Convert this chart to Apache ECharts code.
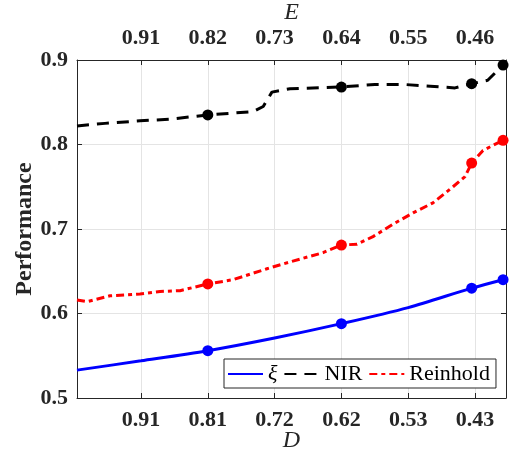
<!DOCTYPE html>
<html><head><meta charset="utf-8">
<script src="https://cdn.jsdelivr.net/npm/echarts@6/dist/echarts.min.js"></script>
<style>html,body{margin:0;padding:0;background:#fff}#c{width:514px;height:461px}</style>
</head><body><div id="c"></div>
<script>
// x positions are sample positions (tick k sits at position k)
const tickPos = [1, 2, 3, 4, 5, 6];
const dLabels = ['0.91', '0.81', '0.72', '0.62', '0.53', '0.43'];
const eLabels = ['0.91', '0.82', '0.73', '0.64', '0.55', '0.46'];
const yTicks = [0.5, 0.6, 0.7, 0.8, 0.9];

const xiX = [0.042, 1, 2, 3, 4, 5, 5.95, 6.42];
const xiY = [0.533, 0.544, 0.556, 0.571, 0.588, 0.607, 0.630, 0.640];

const nirX = [0.042, 0.461, 0.985, 1.434, 2.0, 2.677, 2.83, 2.96, 3.23, 3.99, 4.5, 4.95, 5.33, 5.70, 5.95, 6.19, 6.42];
const nirY = [0.822, 0.825, 0.828, 0.830, 0.835, 0.839, 0.845, 0.862, 0.866, 0.868, 0.871, 0.871, 0.869, 0.867, 0.872, 0.876, 0.894];

const reiX = [0.042, 0.19, 0.536, 0.985, 1.284, 1.584, 2.0, 2.377, 2.886, 3.23, 3.725, 3.994, 4.234, 4.473, 4.802, 5.072, 5.371, 5.671, 5.85, 5.95, 6.12, 6.42];
const reiY = [0.616, 0.614, 0.621, 0.623, 0.626, 0.627, 0.635, 0.640, 0.653, 0.661, 0.672, 0.681, 0.682, 0.691, 0.707, 0.719, 0.731, 0.750, 0.762, 0.778, 0.793, 0.805];

const markX = [2, 4, 5.95, 6.42];
const xiMark = [0.556, 0.588, 0.630, 0.640];
const nirMark = [0.835, 0.868, 0.872, 0.894];
const reiMark = [0.635, 0.681, 0.778, 0.805];

const zip = (a, b) => a.map((v, i) => [v, b[i]]);
const FONT = 'Liberation Serif';
const AX = '#262626';
const GRIDC = '#e4e4e4';

function xAxisCfg(pos, labels, name, gap) {
  return {
    type: 'value', position: pos, min: 0.042, max: 6.464,
    name: name, nameLocation: 'middle', nameGap: gap, nameMoveOverlap: false,
    nameTextStyle: {fontFamily: FONT, fontStyle: 'italic', fontSize: 24, color: AX},
    axisLine: {show: true, onZero: false, lineStyle: {color: AX, width: 1}},
    axisTick: {show: true, inside: true, length: 5, customValues: tickPos, lineStyle: {color: AX}},
    axisLabel: {customValues: tickPos, margin: 11, fontFamily: FONT, fontWeight: 'bold', fontSize: 22, color: AX,
      formatter: v => labels[Math.round(v) - 1] || ''},
    splitLine: {show: pos === 'bottom', lineStyle: {color: GRIDC, width: 1}}
  };
}

const chart = echarts.init(document.getElementById('c'));
chart.setOption({
  animation: false,
  backgroundColor: '#fff',
  grid: {left: 77, right: 8, top: 60, bottom: 63, containLabel: false, outerBoundsMode: 'none'},
  xAxis: [xAxisCfg('bottom', dLabels, 'D', 31), xAxisCfg('top', eLabels, 'E', 35)],
  yAxis: [
    {type: 'value', position: 'left', min: 0.5, max: 0.9, interval: 0.1,
     name: 'Performance', nameLocation: 'middle', nameGap: 40, nameMoveOverlap: false,
     nameTextStyle: {fontFamily: FONT, fontWeight: 'bold', fontSize: 24, color: AX},
     axisLine: {show: true, lineStyle: {color: AX}},
     axisTick: {show: true, inside: true, length: 5, lineStyle: {color: AX}},
     axisLabel: {margin: 9, fontFamily: FONT, fontWeight: 'bold', fontSize: 22, color: AX,
       formatter: v => v.toFixed(1)},
     splitLine: {show: true, lineStyle: {color: GRIDC}}},
    {type: 'value', position: 'right', min: 0.5, max: 0.9, interval: 0.1,
     axisLine: {show: true, lineStyle: {color: AX}},
     axisTick: {show: true, inside: true, length: 5, lineStyle: {color: AX}},
     axisLabel: {show: false}, splitLine: {show: false}}
  ],
  legend: {
    data: ['ξ', 'NIR', 'Reinhold'],
    left: 224, top: 359, orient: 'horizontal',
    padding: [4, 6, 3, 3], itemGap: 6, itemWidth: 35, itemHeight: 14,
    borderColor: AX, borderWidth: 1, backgroundColor: '#fff',
    itemStyle: {opacity: 0},
    formatter: n => n === 'ξ' ? '{i|ξ}' : n,
    textStyle: {fontFamily: FONT, fontSize: 22, color: '#000',
      rich: {i: {fontFamily: FONT, fontStyle: 'italic', fontSize: 22, color: '#000'}}}
  },
  series: [
    {name: 'NIR', type: 'line', data: zip(nirX, nirY), symbol: 'none', z: 3,
     lineStyle: {color: '#000', width: 3, type: [12, 8]}, itemStyle: {color: '#000'}},
    {name: 'Reinhold', type: 'line', data: zip(reiX, reiY), symbol: 'none', z: 3,
     lineStyle: {color: '#ff0000', width: 3, type: [8, 4, 4, 4]}, itemStyle: {color: '#ff0000'}},
    {name: 'ξ', type: 'line', data: zip(xiX, xiY), symbol: 'none', smooth: 0.3, z: 3,
     lineStyle: {color: '#0000ff', width: 3}, itemStyle: {color: '#0000ff'}},
    {type: 'scatter', data: zip(markX, nirMark), symbolSize: 11, itemStyle: {color: '#000', opacity: 1}, z: 4},
    {type: 'scatter', data: zip(markX, reiMark), symbolSize: 11, itemStyle: {color: '#ff0000', opacity: 1}, z: 4},
    {type: 'scatter', data: zip(markX, xiMark), symbolSize: 11, itemStyle: {color: '#0000ff', opacity: 1}, z: 4}
  ]
});
</script></body></html>
